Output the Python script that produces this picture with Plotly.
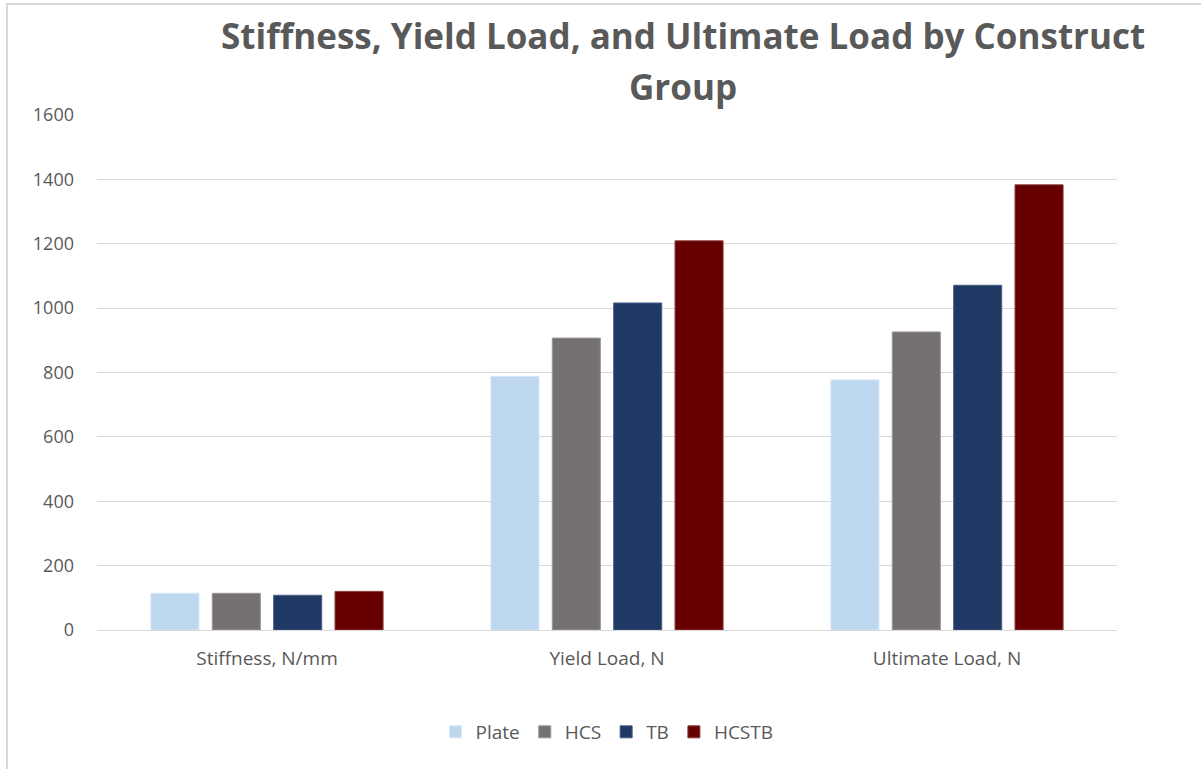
import plotly.graph_objects as go

# Mechanical test results per construct group
categories = ["Stiffness, N/mm", "Yield Load, N", "Ultimate Load, N"]
plate = [114, 788, 777]
hcs = [114, 907, 926]
tb = [108, 1016, 1071]
hcstb = [120, 1209, 1383]

series_names = ["Plate", "HCS", "TB", "HCSTB"]
series_values = [plate, hcs, tb, hcstb]
fill_colors = ["#BDD7EE", "#767171", "#1F3864", "#660000"]
edge_colors = ["#D6E6F5", "#9A9696", "#4A5E85", "#8A3A3A"]

y_ticks = [0, 200, 400, 600, 800, 1000, 1200, 1400, 1600]

TEXT = "#595959"
GRID = "#D9D9D9"
FONT = "Open Sans"

fig = go.Figure()
for name, vals, fc, ec in zip(series_names, series_values, fill_colors, edge_colors):
    fig.add_trace(go.Bar(
        name=name, x=categories, y=vals,
        marker=dict(color=fc, line=dict(color=ec, width=1)),
    ))

# pixel geometry of the plotting area
W, H = 1201, 769
L, R, T, B = 97, 84, 115, 139
pw, ph = W - L - R, H - T - B

def px_x(x):
    return (x - L) / pw

def px_y(y):
    return (H - B - y) / ph

fig.update_layout(
    width=W, height=H,
    margin=dict(l=L, r=R, t=T, b=B, pad=0),
    paper_bgcolor="white", plot_bgcolor="white",
    barmode="group", bargap=0.278, bargroupgap=0.217,
    font=dict(family=FONT, color=TEXT, size=19),
    showlegend=True,
    legend=dict(
        orientation="h", x=0.5, xanchor="center",
        y=px_y(732), yanchor="middle",
        font=dict(size=19, color=TEXT),
        itemwidth=30, tracegroupgap=0,
    ),
    xaxis=dict(
        showgrid=False, showline=False, zeroline=False,
        tickfont=dict(size=19, color=TEXT), ticks="",
        ticklabelstandoff=15,
    ),
    yaxis=dict(
        range=[0, 1600], tickvals=y_ticks,
        showgrid=True, gridcolor=GRID, gridwidth=1,
        zeroline=True, zerolinecolor=GRID, zerolinewidth=1,
        showline=False, ticks="",
        tickfont=dict(size=18, color=TEXT),
        ticklabelstandoff=22,
    ),
    annotations=[
        dict(text="<b>Stiffness, Yield Load, and Ultimate Load by Construct</b>",
             xref="paper", yref="paper", x=px_x(683), y=px_y(36),
             xanchor="center", yanchor="middle", showarrow=False,
             font=dict(size=35, color=TEXT, family=FONT)),
        dict(text="<b>Group</b>",
             xref="paper", yref="paper", x=px_x(683), y=px_y(87),
             xanchor="center", yanchor="middle", showarrow=False,
             font=dict(size=35, color=TEXT, family=FONT)),
    ],
    shapes=[
        dict(type="rect", xref="paper", yref="paper",
             x0=px_x(7), x1=px_x(1210), y0=px_y(780), y1=px_y(4),
             line=dict(color=GRID, width=2), fillcolor="rgba(0,0,0,0)",
             layer="below"),
    ],
)

fig.write_html("out.html")
